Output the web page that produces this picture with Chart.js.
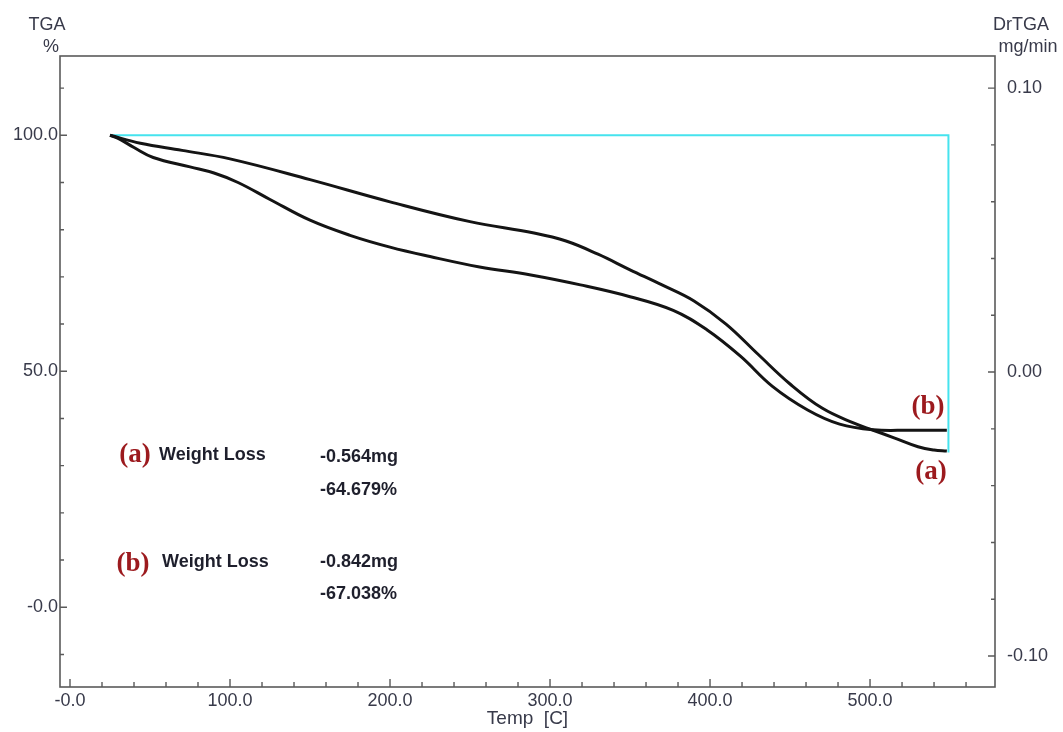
<!DOCTYPE html>
<html><head><meta charset="utf-8">
<script src="https://cdn.jsdelivr.net/npm/chart.js@4.4.1/dist/chart.umd.min.js"></script>
<style>html,body{margin:0;padding:0;background:#fff}#wrap{width:1063px;height:732px}</style>
</head><body><div id="wrap"><canvas id="c" width="1063" height="732"></canvas></div>
<script>
// ---- data ----
const tempA   = [25, 44, 70, 100, 150, 200, 250, 290, 310, 330, 350, 370, 390, 410, 430, 450, 470, 490, 502, 515, 530, 540, 548];
const weightA = [100, 98.3, 96.8, 95.0, 90.6, 85.9, 81.7, 79.3, 77.6, 74.8, 71.5, 68.3, 64.9, 60.0, 53.6, 47.3, 42.2, 39.0, 37.5, 35.9, 34.0, 33.3, 33.1];
const tempB   = [25, 31, 40, 52, 75, 90, 105, 125, 150, 175, 200, 225, 256, 288, 319, 350, 377, 398, 419, 439, 461, 481, 502, 525, 548];
const weightB = [100, 99.2, 97.4, 95.3, 93.3, 92.0, 90.0, 86.4, 82.0, 78.8, 76.3, 74.3, 72.1, 70.4, 68.3, 65.8, 62.9, 58.8, 53.2, 46.8, 41.8, 38.8, 37.6, 37.5, 37.5];
const stepTemp  = [25, 549, 549];
const stepValue = [100, 100, 32.8];

const xTicks = [0, 100, 200, 300, 400, 500];
const xTickLabels = ['-0.0', '100.0', '200.0', '300.0', '400.0', '500.0'];
const yTicks = [0, 50, 100];
const yTickLabels = ['-0.0', '50.0', '100.0'];
const y2Ticks = [-0.10, 0.00, 0.10];
const y2TickLabels = ['-0.10', '0.00', '0.10'];
const xMinorStep = 20, yMinorStep = 10, y2MinorStep = 0.02;

const labelA = '(a)', labelB = '(b)';
const lossTitle = 'Weight Loss';
const lossA = ['-0.564mg', '-64.679%'];
const lossB = ['-0.842mg', '-67.038%'];

const TXT = '#383a4a';
const AX = '#5a5a5a';
const RED = '#9c1a1e';
const FONT = '"Liberation Sans", Arial, sans-serif';
const SERIF = '"Liberation Serif", "Times New Roman", serif';

const pts = (xs, ys) => xs.map((x, i) => ({x: x, y: ys[i]}));

const decor = {
  id: 'decor',
  afterDraw(chart) {
    const ctx = chart.ctx, a = chart.chartArea;
    const sx = chart.scales.x, sy = chart.scales.y, sy2 = chart.scales.y2;
    ctx.save();
    ctx.strokeStyle = AX; ctx.lineWidth = 1.6;
    ctx.strokeRect(a.left, a.top, a.right - a.left, a.bottom - a.top);
    ctx.lineWidth = 1.4;
    ctx.beginPath();
    for (let v = 0; v <= 570; v += xMinorStep) {
      const px = sx.getPixelForValue(v);
      const len = (v % 100 === 0) ? 8 : 5;
      ctx.moveTo(px, a.bottom); ctx.lineTo(px, a.bottom - len);
    }
    for (let v = -10; v <= 110; v += yMinorStep) {
      const py = sy.getPixelForValue(v);
      const len = (v % 50 === 0) ? 7 : 4;
      ctx.moveTo(a.left, py); ctx.lineTo(a.left + len, py);
    }
    for (let k = -5; k <= 5; k++) {
      const py = sy2.getPixelForValue(k * y2MinorStep);
      const len = (k % 5 === 0) ? 7 : 4;
      ctx.moveTo(a.right, py); ctx.lineTo(a.right - len, py);
    }
    ctx.stroke();

    ctx.fillStyle = TXT;
    ctx.font = '18px ' + FONT;
    ctx.textAlign = 'center'; ctx.textBaseline = 'middle';
    ctx.fillText('TGA', 47, 25);
    ctx.fillText('%', 51, 47);
    ctx.fillText('DrTGA', 1021, 25);
    ctx.fillText('mg/min', 1028, 47);
    ctx.font = '19px ' + FONT;
    ctx.fillText('Temp  [C]', (a.left + a.right) / 2, 719);

    ctx.textAlign = 'left';
    ctx.fillStyle = '#1e1f2c';
    ctx.font = 'bold 18px ' + FONT;
    ctx.fillText(lossTitle, 159, 455);
    ctx.fillText(lossA[0], 320, 457);
    ctx.fillText(lossA[1], 320, 490);
    ctx.fillText(lossTitle, 162, 562);
    ctx.fillText(lossB[0], 320, 562);
    ctx.fillText(lossB[1], 320, 594);

    ctx.fillStyle = RED;
    ctx.font = 'bold 27px ' + SERIF;
    ctx.textAlign = 'center';
    ctx.fillText(labelA, 135, 455);
    ctx.fillText(labelB, 133, 564);
    ctx.fillText(labelB, 928, 407);
    ctx.fillText(labelA, 931, 472);
    ctx.restore();
  }
};

const fixTicks = (vals) => (scale) => { scale.ticks = vals.map(v => ({value: v})); };

new Chart(document.getElementById('c'), {
  type: 'line',
  data: {
    datasets: [
      {data: pts(tempA, weightA), borderColor: '#141414', borderWidth: 3, pointRadius: 0, tension: 0.4, yAxisID: 'y'},
      {data: pts(tempB, weightB), borderColor: '#141414', borderWidth: 3, pointRadius: 0, tension: 0.4, yAxisID: 'y'},
      {data: pts(stepTemp, stepValue), borderColor: '#46e3ee', borderWidth: 2, pointRadius: 0, tension: 0, yAxisID: 'y'}
    ]
  },
  options: {
    responsive: false,
    animation: false,
    layout: {padding: {top: 56, left: 0, right: 0, bottom: 0}},
    plugins: {legend: {display: false}, tooltip: {enabled: false}},
    scales: {
      x: {
        type: 'linear', min: -6.25, max: 578.1,
        afterBuildTicks: fixTicks(xTicks),
        afterFit: (s) => { s.height = 45; },
        grid: {display: false, drawTicks: false},
        border: {display: false},
        ticks: {padding: 3, color: TXT, font: {family: FONT, size: 18}, maxRotation: 0, autoSkip: false,
                callback: (v) => xTickLabels[xTicks.indexOf(v)]}
      },
      y: {
        type: 'linear', position: 'left', min: -16.9, max: 116.8,
        afterBuildTicks: fixTicks(yTicks),
        afterFit: (s) => { s.width = 60; },
        grid: {display: false, drawTicks: false},
        border: {display: false},
        ticks: {padding: 2, color: TXT, font: {family: FONT, size: 18}, autoSkip: false,
                callback: (v) => yTickLabels[yTicks.indexOf(v)]}
      },
      y2: {
        type: 'linear', position: 'right', min: -0.1109, max: 0.1113,
        afterBuildTicks: fixTicks(y2Ticks),
        afterFit: (s) => { s.width = 68; },
        grid: {display: false, drawTicks: false},
        border: {display: false},
        ticks: {padding: 12, color: TXT, font: {family: FONT, size: 18}, autoSkip: false,
                callback: (v) => { const i = y2Ticks.findIndex(t => Math.abs(t - v) < 1e-9); return y2TickLabels[i]; }}
      }
    }
  },
  plugins: [decor]
});
</script>
</body></html>
